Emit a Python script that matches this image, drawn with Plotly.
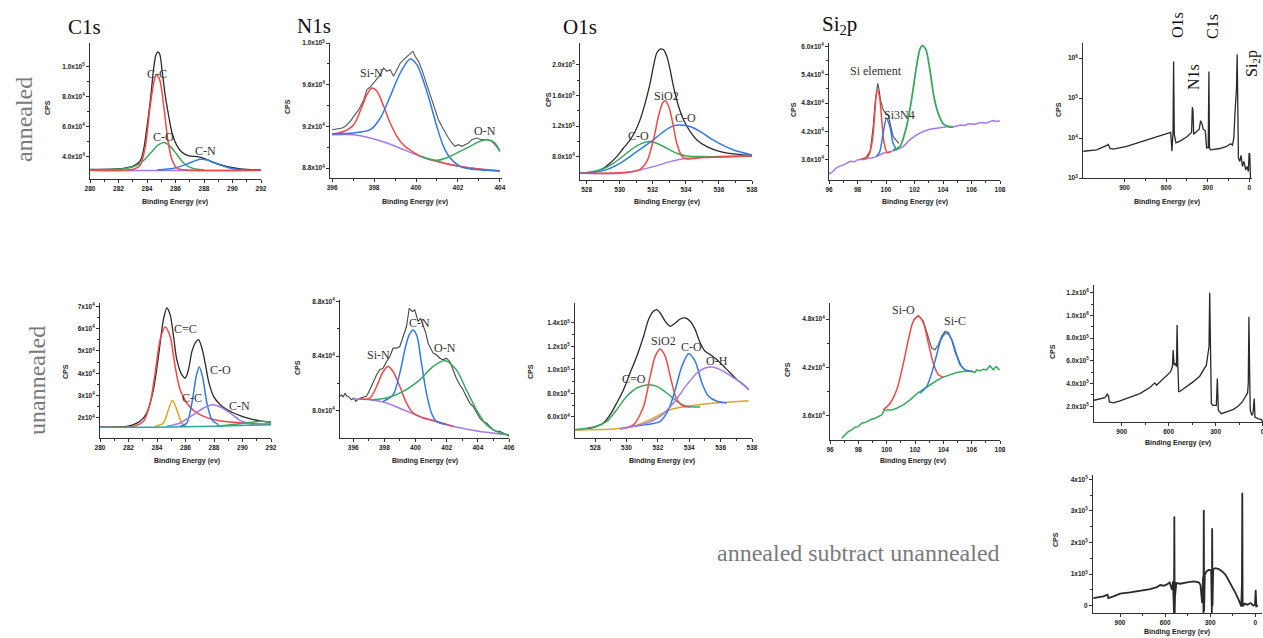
import plotly.graph_objects as go

W, H = 1263, 638

# ---------------- DATA ----------------
# Panel 1: C1s annealed
C1S_A_BLACK_E = [280, 282.35, 283.06, 283.53, 283.76, 284.0, 284.24, 284.47, 284.61, 284.75, 284.89, 285.08, 285.29, 285.53, 285.76, 286.07, 286.47, 286.94, 287.53, 288.0, 288.71, 289.65, 290.59, 292.0]
C1S_A_BLACK_V = [31560, 32230, 33780, 37340, 44440, 60000, 77780, 98890, 107100, 109550, 108200, 95560, 80000, 66670, 55560, 47780, 42670, 40450, 40000, 38890, 36000, 33330, 31780, 31110]
C1S_A_RED_E = [280, 283.06, 283.53, 283.88, 284.19, 284.47, 284.66, 284.89, 285.18, 285.46, 285.76, 286.12, 286.82, 292]
C1S_A_RED_V = [31110, 31560, 34450, 46670, 71110, 88890, 94450, 91110, 73330, 51110, 37780, 32230, 31110, 30890]
C1S_A_GREEN_E = [280, 282.59, 283.53, 284.24, 284.71, 285.18, 285.65, 286.12, 286.59, 287.18, 288.0]
C1S_A_GREEN_V = [31110, 32230, 35560, 42220, 47110, 49340, 46670, 41110, 35560, 32230, 31110]
C1S_A_BLUE_E = [284.71, 285.88, 286.82, 287.41, 287.76, 288.24, 288.94, 289.88, 290.82, 292]
C1S_A_BLUE_V = [31110, 32230, 35110, 37340, 38230, 37780, 35110, 32230, 31110, 30890]
C1S_A_BASE_E = [280, 292]
C1S_A_BASE_V = [30800, 30800]

# Panel 2: N1s annealed
N1S_A_BLACK_E = [396.0, 396.24, 396.48, 396.63, 396.87, 397.03, 397.27, 397.51, 397.66, 397.82, 397.98, 398.14, 398.30, 398.46, 398.61, 398.77, 398.93, 399.09, 399.25, 399.41, 399.57, 399.72, 399.85, 399.96, 400.12, 400.28, 400.44, 400.60, 400.75, 400.91, 401.07, 401.23, 401.39, 401.55, 401.71, 401.86, 402.02, 402.18, 402.34, 402.50, 402.66, 402.89, 403.13, 403.37, 403.61, 403.84, 404.0]
N1S_A_BLACK_V = [91680, 91744, 91840, 92000, 92480, 92960, 93600, 94560, 95520, 95776, 96160, 96480, 96960, 97600, 97280, 97440, 96800, 97440, 98080, 98400, 98720, 99040, 99200, 98720, 98240, 97440, 96480, 95520, 94560, 93600, 92640, 92000, 91360, 90880, 90400, 90080, 90240, 90080, 90240, 90400, 90720, 90880, 90720, 90720, 90560, 90080, 89600]
N1S_A_BASE_E = [396.0, 397.03, 397.82, 398.61, 399.41, 400.20, 400.99, 401.78, 402.58, 403.37, 404.0]
N1S_A_BASE_V = [91200, 91200, 90880, 90400, 89760, 89120, 88640, 88256, 88000, 87840, 87744]
N1S_A_RED_E = [396.0, 396.55, 397.03, 397.43, 397.66, 397.9, 398.14, 398.46, 398.77, 399.09, 399.41, 399.88, 400.36, 400.99, 401.78, 402.58, 403.37, 404.0]
N1S_A_RED_V = [91250, 91500, 92160, 93920, 95040, 95680, 95360, 93920, 92320, 91040, 90200, 89500, 89000, 88640, 88256, 88000, 87840, 87744]
N1S_A_BLUE_E = [396.0, 397.03, 397.82, 398.30, 398.77, 399.25, 399.72, 400.04, 400.36, 400.68, 400.99, 401.31, 401.63, 402.10, 402.58, 403.37, 404.0]
N1S_A_BLUE_V = [91296, 91360, 91680, 92800, 94880, 97120, 98464, 97920, 96320, 94240, 92000, 90080, 88960, 88160, 87904, 87776, 87712]
N1S_A_GREEN_E = [400.20, 400.99, 401.63, 402.10, 402.58, 403.05, 403.45, 403.77, 404.0]
N1S_A_GREEN_V = [89120, 88736, 89120, 89600, 90080, 90560, 90720, 90400, 89600]

# Panel 3: O1s annealed
O1S_A_BLACK_E = [527.6, 528.4, 529.01, 529.41, 529.82, 530.22, 530.63, 530.93, 531.23, 531.54, 531.84, 532.04, 532.24, 532.44, 532.65, 532.85, 533.05, 533.25, 533.56, 533.86, 534.26, 534.67, 535.27, 536.08, 536.89, 538.0]
O1S_A_BLACK_V = [58300, 59170, 64840, 71380, 80100, 91000, 101900, 112800, 128060, 149860, 176000, 197800, 215260, 220490, 219600, 210900, 193460, 171660, 145500, 128060, 112800, 101900, 93180, 86640, 83590, 81410]
O1S_A_BASE_E = [527.6, 530.02, 531.03, 532.04, 533.05, 534.06, 535.07, 536.08, 538.0]
O1S_A_BASE_V = [58300, 58300, 61780, 67000, 73560, 77920, 79230, 80100, 80970]
O1S_A_RED_E = [527.6, 530.63, 531.23, 531.64, 532.04, 532.34, 532.59, 532.75, 532.95, 533.21, 533.45, 533.76, 534.06, 535.07, 538.0]
O1S_A_RED_V = [58300, 60040, 63530, 73560, 101900, 132420, 149860, 152900, 146400, 123700, 97540, 81000, 77050, 78800, 80970]
O1S_A_BLUE_E = [527.6, 529.01, 530.02, 531.03, 532.04, 532.65, 533.25, 533.66, 534.26, 534.87, 535.47, 536.08, 536.89, 538.0]
O1S_A_BLUE_V = [58300, 61780, 71380, 86640, 101900, 112800, 120200, 121500, 119300, 112800, 104100, 96700, 88800, 82300]
O1S_A_GREEN_E = [527.6, 528.81, 529.62, 530.42, 531.03, 531.74, 532.24, 532.85, 533.45, 534.06, 535.07, 538.0]
O1S_A_GREEN_V = [58300, 62660, 71380, 84460, 94050, 99780, 97540, 91000, 84460, 80970, 80100, 80970]

# Panel 4: Si2p annealed
SI_A_BASE_E = [96.0, 96.25, 96.5, 96.75, 97.0, 97.25, 97.5, 97.75, 98.0, 98.25, 98.5, 98.75, 99.0, 99.33, 99.8, 100.27, 100.73, 101.2, 101.67, 102.14, 102.61, 103.08, 103.55, 104.02, 104.5, 104.75, 105.0, 105.25, 105.5, 105.75, 106.0, 106.25, 106.5, 106.75, 107.0, 107.25, 107.5, 107.75, 108.0]
SI_A_BASE_V = [33030, 33500, 34300, 34700, 34900, 35300, 35700, 35600, 36000, 36150, 36100, 36350, 36400, 36700, 37410, 37760, 38110, 38820, 40230, 41290, 42000, 42490, 42700, 42920, 43100, 43000, 43250, 43400, 43300, 43600, 43650, 43550, 43800, 43900, 43750, 44050, 44300, 44100, 44260]
SI_A_BLACK_E = [98.3, 98.6, 98.9, 99.1, 99.25, 99.42, 99.5, 99.61, 99.8, 99.98, 100.15, 100.31, 100.5, 100.69, 100.9]
SI_A_BLACK_V = [36140, 36500, 38000, 43000, 48500, 52200, 51000, 48700, 46590, 45880, 45530, 43060, 40940, 40230, 39500]
SI_A_RED_E = [98.27, 98.74, 99.05, 99.23, 99.37, 99.54, 99.70, 99.87, 100.08, 100.38]
SI_A_RED_V = [36140, 36700, 40230, 46590, 50680, 49410, 44470, 39530, 37550, 37760]
SI_A_BLUE_E = [99.33, 99.56, 99.80, 100.03, 100.27, 100.50, 100.73]
SI_A_BLUE_V = [36700, 37760, 41640, 44820, 43060, 39530, 38250]
SI_A_GREEN_E = [100.5, 100.97, 101.44, 101.79, 102.14, 102.37, 102.56, 102.80, 103.08, 103.36, 103.66, 104.02, 104.37, 104.72]
SI_A_GREEN_V = [38110, 38820, 43060, 48700, 55760, 59290, 60140, 59290, 55060, 49410, 45880, 43620, 43060, 42920]

# Panel 5: survey annealed (log)
SUR_A_E = [1197.6, 1101, 1024, 1017, 1005, 981, 885, 789, 692, 596, 567, 558, 550, 546, 541, 529, 500, 452, 423, 416, 411, 406, 401, 385, 361, 351, 341, 332, 317, 308, 296, 291, 287, 279, 212, 164, 135, 121, 111, 102, 92, 87, 83, 78, 68, 59, 49, 39, 25, 15, 6, 1, -4, -9]
SUR_A_V = [4670, 5050, 6640, 6900, 5460, 5250, 6140, 7760, 9820, 12400, 13900, 4670, 13700, 822000, 12400, 7600, 8390, 10600, 12900, 13700, 59000, 48500, 12400, 13700, 16600, 27100, 22300, 16600, 15100, 5670, 5670, 458000, 5670, 5050, 5460, 6140, 7180, 6640, 10200, 48500, 172600, 1216000, 48500, 3160, 2600, 3700, 1940, 2600, 1600, 1940, 1450, 4240, 3850, 980]

# Panel 6: C1s unannealed
C1S_U_BLACK_E = [280.0, 281.17, 281.87, 282.34, 282.81, 283.28, 283.75, 284.10, 284.45, 284.69, 284.92, 285.16, 285.39, 285.74, 285.98, 286.21, 286.45, 286.68, 286.91, 287.15, 287.38, 287.62, 287.97, 288.44, 288.91, 289.37, 289.84, 290.31, 290.78, 291.48, 292.0]
C1S_U_BLACK_V = [15950, 15950, 16250, 17000, 18490, 22220, 32680, 47600, 64030, 69250, 66270, 56560, 46110, 39390, 37900, 41630, 49840, 53580, 55070, 51340, 44620, 36410, 29690, 25960, 23720, 22220, 21030, 19990, 19240, 18490, 18040]
C1S_U_RED_E = [280.0, 282.34, 283.05, 283.52, 283.87, 284.22, 284.57, 284.92, 285.27, 285.62, 286.09, 286.56, 287.27, 288.20, 289.37, 290.78, 292.0]
C1S_U_RED_V = [15950, 16250, 18490, 26700, 40140, 55070, 60740, 56560, 43130, 32680, 26700, 23420, 20730, 18940, 18040, 17450, 17300]
C1S_U_ORANGE_E = [283.87, 284.45, 284.80, 285.09, 285.39, 285.74, 286.09]
C1S_U_ORANGE_V = [16250, 17750, 23720, 27900, 23720, 17750, 16250]
C1S_U_BLUE_E = [285.62, 286.09, 286.45, 286.75, 286.96, 287.19, 287.50, 287.85, 288.32]
C1S_U_BLUE_V = [16250, 17750, 26700, 38650, 42830, 38650, 26700, 19240, 17000]
C1S_U_PURPLE_E = [284.69, 285.62, 286.56, 287.27, 287.85, 288.44, 289.14, 289.84, 290.78]
C1S_U_PURPLE_V = [16250, 17750, 21480, 24460, 25960, 24910, 22220, 18940, 17000]
C1S_U_GREEN_E = [288.2, 289.84, 291.25, 292.0]
C1S_U_GREEN_V = [16250, 17450, 18490, 18190]
C1S_U_BASE_E = [280.0, 284.0, 288.0, 292.0]
C1S_U_BASE_V = [15800, 15900, 16300, 17000]

# Panel 7: N1s unannealed
N1S_U_BLACK_E = [395.15, 395.25, 395.36, 395.47, 395.57, 395.74, 395.89, 396.04, 396.17, 396.32, 396.47, 396.64, 396.85, 397.07, 397.28, 397.50, 397.71, 397.92, 398.14, 398.35, 398.56, 398.78, 398.99, 399.21, 399.42, 399.53, 399.59, 399.70, 399.80, 399.95, 400.06, 400.17, 400.32, 400.49, 400.66, 400.81, 400.96, 401.13, 401.34, 401.56, 401.77, 401.98, 402.20, 402.41, 402.62, 402.84, 403.05, 403.26, 403.48, 403.69, 403.91, 404.12, 404.33, 404.55, 404.76, 404.97, 405.19, 405.40, 405.62, 405.87, 406.0]
N1S_U_BLACK_V = [81030, 81150, 80980, 81270, 81080, 80980, 80780, 80910, 80660, 80830, 80910, 80980, 81030, 81520, 82130, 82620, 82990, 83110, 83600, 83960, 84580, 84580, 84700, 85430, 86170, 87020, 87510, 87390, 87270, 87390, 86900, 86530, 86780, 86290, 85680, 84940, 84580, 84210, 84090, 83840, 83720, 83840, 83600, 82990, 82370, 81890, 81520, 81030, 80540, 80300, 79810, 79440, 79190, 79070, 78830, 78580, 78460, 78460, 78340, 78140, 78090]
N1S_U_BASE_E = [396.0, 397.07, 398.14, 399.21, 400.27, 401.34, 402.41, 403.48, 404.55, 405.62, 406.0]
N1S_U_BASE_V = [80830, 80780, 80540, 80050, 79560, 79190, 78830, 78580, 78390, 78240, 78190]
N1S_U_RED_E = [396.43, 397.07, 397.50, 397.92, 398.24, 398.56, 398.99, 399.42, 399.85, 400.49, 401.34, 402.41]
N1S_U_RED_V = [80830, 80910, 81760, 82860, 83230, 82860, 81760, 80540, 79810, 79440, 79190, 78830]
N1S_U_BLUE_E = [397.92, 398.56, 398.99, 399.31, 399.59, 399.85, 400.10, 400.38, 400.70, 401.02, 401.34, 401.98]
N1S_U_BLUE_V = [80660, 81150, 82740, 84450, 85550, 85920, 85430, 83470, 81270, 79810, 79190, 78950]
N1S_U_GREEN_E = [397.07, 398.14, 399.21, 400.27, 401.13, 401.88, 402.62, 403.26, 403.91, 404.55, 405.19, 406.0]
N1S_U_GREEN_V = [80780, 80910, 81400, 82250, 83230, 83670, 82990, 81520, 80050, 78950, 78460, 78190]

# Panel 8: O1s unannealed
O1S_U_BLACK_E = [526.72, 527.47, 528.11, 528.53, 528.96, 529.38, 529.81, 530.23, 530.66, 531.09, 531.40, 531.72, 531.94, 532.15, 532.47, 532.79, 533.11, 533.43, 533.74, 534.06, 534.38, 534.70, 535.02, 535.34, 535.77, 536.19, 536.62, 537.04, 537.47, 537.79]
O1S_U_BLACK_V = [49220, 49780, 52050, 54890, 61980, 71910, 83260, 97450, 111630, 128650, 142840, 149930, 151350, 148510, 141420, 137160, 140000, 143400, 144260, 141420, 134330, 122980, 115890, 113050, 108790, 103120, 97450, 91770, 87520, 83260]
O1S_U_RED_E = [529.6, 530.45, 531.09, 531.51, 531.83, 532.15, 532.47, 532.79, 533.21, 533.64, 534.06]
O1S_U_RED_V = [49780, 53470, 69080, 94610, 111630, 117870, 111630, 94610, 74750, 69080, 68500]
O1S_U_BLUE_E = [530.45, 531.30, 532.15, 532.68, 533.11, 533.53, 533.96, 534.38, 534.81, 535.23, 535.77, 536.40]
O1S_U_BLUE_V = [52050, 53500, 56310, 66240, 83260, 103120, 113900, 107380, 88930, 77590, 73330, 71910]
O1S_U_PURPLE_E = [529.6, 531.30, 532.15, 533.0, 533.85, 534.49, 535.02, 535.45, 535.98, 536.62, 537.26, 537.79]
O1S_U_PURPLE_V = [49780, 54890, 60560, 71910, 87520, 97450, 101700, 102550, 100280, 95180, 89500, 83260]
O1S_U_GREEN_E = [526.72, 527.89, 528.74, 529.38, 530.02, 530.66, 531.40, 531.94, 532.57, 533.21, 533.85, 534.70]
O1S_U_GREEN_V = [49220, 51490, 56310, 66240, 77590, 84680, 87520, 86100, 80430, 73330, 69080, 68500]
O1S_U_BASE_E = [526.72, 529.17, 530.45, 531.72, 532.79, 533.85, 535.13, 536.40, 537.79]
O1S_U_BASE_V = [49220, 49780, 52050, 59150, 66240, 69080, 71340, 72480, 73900]

# Panel 9: Si2p unannealed
SI_U_GREEN_E = [96.82, 97.06, 97.29, 97.53, 97.76, 98.0, 98.24, 98.47, 98.71, 98.94, 99.18, 99.41, 99.65, 99.81, 100.0, 100.35, 100.71, 101.18, 101.65, 102.12, 102.59, 103.06, 103.53, 104.0, 104.47, 104.94, 105.41, 105.88, 106.24, 106.35, 106.59, 106.82, 107.06, 107.29, 107.53, 107.72, 107.88, 108.0]
SI_U_GREEN_V = [33180, 33590, 34010, 34220, 34550, 34630, 35050, 35130, 35380, 35540, 35670, 35880, 36080, 36620, 36710, 36710, 36910, 37330, 37950, 38700, 39280, 39820, 40360, 40780, 41070, 41360, 41480, 41560, 41360, 41690, 41560, 41770, 41690, 42190, 41690, 42100, 41810, 41690]
SI_U_RED_E = [99.76, 100.24, 100.71, 101.18, 101.53, 101.88, 102.24, 102.59, 102.94, 103.29, 103.65, 104.0]
SI_U_RED_V = [36710, 37540, 39200, 42520, 45430, 47710, 48330, 47500, 45010, 42520, 41070, 40780]
SI_U_BLACK_E = [101.88, 102.24, 102.59, 102.94, 103.18, 103.41, 103.65, 103.88, 104.12, 104.35, 104.59, 104.82, 105.18, 105.53, 105.88]
SI_U_BLACK_V = [47830, 48420, 47710, 45630, 44390, 44180, 44800, 45840, 46460, 46340, 45430, 43970, 42310, 41690, 41560]
SI_U_BLUE_E = [102.35, 102.82, 103.18, 103.53, 103.88, 104.24, 104.59, 104.94, 105.29, 105.65, 106.12]
SI_U_BLUE_V = [38780, 39610, 41270, 43560, 45630, 46260, 45430, 43560, 42100, 41560, 41480]

# Panel 10: survey unannealed
SUR_U_E = [1077, 1038.8, 1006.9, 992.0, 983.5, 979.3, 953.8, 911.3, 847.6, 783.8, 720.1, 688.3, 677.6, 656.4, 613.9, 588.4, 575.7, 571.4, 565.0, 556.5, 550.1, 545.9, 541.6, 535.3, 518.3, 486.4, 443.9, 401.5, 369.6, 358.9, 348.3, 341.9, 337.7, 333.4, 327.1, 316.4, 295.2, 288.8, 282.4, 263.3, 231.4, 188.9, 157.0, 129.4, 108.1, 95.4, 91.1, 86.9, 82.6, 78.4, 67.8, 61.4, 52.9, 48.6, 29.5, 8.3, -2.1]
SUR_U_V = [253000, 267700, 276500, 305900, 288300, 238300, 229500, 247100, 276500, 311800, 364800, 405900, 385300, 414800, 464800, 503000, 547100, 694100, 561800, 576500, 547100, 914700, 576500, 326500, 341200, 370600, 414800, 464800, 532400, 561800, 664700, 723600, 1200000, 811800, 223600, 208900, 208900, 444200, 164800, 135400, 150100, 170700, 200100, 238300, 288300, 317700, 400000, 988200, 517700, 164800, 120600, 135400, 267700, 105900, 91200, 82400, 61800]

# Panel 11: annealed subtract unannealed
SUB_E = [1077.8, 1044.4, 1010.9, 984.2, 977.5, 944.1, 899.5, 832.7, 765.8, 699, 654.4, 632.1, 609.9, 587.6, 569.8, 560.8, 554.1, 547.5, 543, 540.8, 538.6, 536.3, 534.1, 525.2, 498.4, 453.9, 409.3, 375.9, 364.8, 353.6, 346.9, 344.7, 342.5, 340.2, 335.8, 324.7, 309.1, 293.4, 289, 286.8, 284.5, 280.1, 264.5, 242.2, 219.9, 197.6, 175.4, 153.1, 130.8, 115.2, 101.8, 92.9, 88.5, 86.2, 84, 70.6, 52.8, 30.5, 12.7, 1.6, -2.9, -7.4, -18.5]
SUB_V = [24220, 27380, 29480, 34750, 24220, 29480, 37900, 42120, 46330, 52650, 58960, 65280, 63170, 67380, 73690, 61060, 50540, 76850, 29480, -23150, 282100, -23150, 29480, 71590, 69490, 73690, 76850, 73690, 66320, 8430, 92640, -23150, 303160, -17880, 97900, 108420, 113690, 111590, -23150, 245270, -2100, 115800, 118960, 115800, 108420, 97900, 80000, 61060, 40010, 24220, 8430, -2100, 71590, 357900, -2100, 6330, 3160, 8430, 0, 3160, 50540, -2100, 0]

# Tick values / labels
C1S_A_YT = [4e4, 6e4, 8e4, 1e5]
C1S_A_YL = ["4.0x10<sup>4</sup>", "6.0x10<sup>4</sup>", "8.0x10<sup>4</sup>", "1.0x10<sup>5</sup>"]
N1S_A_YT = [8.8e4, 9.2e4, 9.6e4, 1.0e5]
N1S_A_YL = ["8.8x10<sup>4</sup>", "9.2x10<sup>4</sup>", "9.6x10<sup>4</sup>", "1.0x10<sup>5</sup>"]
O1S_A_YT = [8e4, 1.2e5, 1.6e5, 2.0e5]
O1S_A_YL = ["8.0x10<sup>4</sup>", "1.2x10<sup>5</sup>", "1.6x10<sup>5</sup>", "2.0x10<sup>5</sup>"]
SI_A_YT = [3.6e4, 4.2e4, 4.8e4, 5.4e4, 6.0e4]
SI_A_YL = ["3.6x10<sup>4</sup>", "4.2x10<sup>4</sup>", "4.8x10<sup>4</sup>", "5.4x10<sup>4</sup>", "6.0x10<sup>4</sup>"]
SUR_A_YT = [1e3, 1e4, 1e5, 1e6]
SUR_A_YL = ["10<sup>3</sup>", "10<sup>4</sup>", "10<sup>5</sup>", "10<sup>6</sup>"]
C1S_U_YT = [2e4, 3e4, 4e4, 5e4, 6e4, 7e4]
C1S_U_YL = ["2x10<sup>4</sup>", "3x10<sup>4</sup>", "4x10<sup>4</sup>", "5x10<sup>4</sup>", "6x10<sup>4</sup>", "7x10<sup>4</sup>"]
N1S_U_YT = [8.0e4, 8.4e4, 8.8e4]
N1S_U_YL = ["8.0x10<sup>4</sup>", "8.4x10<sup>4</sup>", "8.8x10<sup>4</sup>"]
O1S_U_YT = [6e4, 8e4, 1.0e5, 1.2e5, 1.4e5]
O1S_U_YL = ["6.0x10<sup>4</sup>", "8.0x10<sup>4</sup>", "1.0x10<sup>5</sup>", "1.2x10<sup>5</sup>", "1.4x10<sup>5</sup>"]
SI_U_YT = [3.6e4, 4.2e4, 4.8e4]
SI_U_YL = ["3.6x10<sup>4</sup>", "4.2x10<sup>4</sup>", "4.8x10<sup>4</sup>"]
SUR_U_YT = [2e5, 4e5, 6e5, 8e5, 1.0e6, 1.2e6]
SUR_U_YL = ["2.0x10<sup>5</sup>", "4.0x10<sup>5</sup>", "6.0x10<sup>5</sup>", "8.0x10<sup>5</sup>", "1.0x10<sup>6</sup>", "1.2x10<sup>6</sup>"]
SUB_YT = [0, 1e5, 2e5, 3e5, 4e5]
SUB_YL = ["0", "1x10<sup>5</sup>", "2x10<sup>5</sup>", "3x10<sup>5</sup>", "4x10<sup>5</sup>"]
C1S_XT = [280, 282, 284, 286, 288, 290, 292]
N1S_A_XT = [396, 398, 400, 402, 404]
N1S_U_XT = [396, 398, 400, 402, 404, 406]
O1S_XT = [528, 530, 532, 534, 536, 538]
SI_XT = [96, 98, 100, 102, 104, 106, 108]
SUR_XT = [900, 600, 300, 0]

# ---------------- STYLE ----------------
BLACK = '#2a2a2a'
RED = '#f04848'
BLUE = '#3479e0'
GREEN = '#3aa860'
PURPLE = '#a27be6'
ORANGE = '#dca728'
TEAL = '#27a89a'

def fx(px):
    return px / W

def fy(py):
    return 1 - py / H

# panel layout: (x px domain, y px domain (top,bottom), x range, y range, xticks, yticks, ylabels, log)
PANELS = [
    ((90, 261), (43, 179), [280, 292], [25100, 115550], C1S_XT, C1S_A_YT, C1S_A_YL, False),
    ((330, 502), (43, 178), [395.9, 404.1], [87040, 100000], N1S_A_XT, N1S_A_YT, N1S_A_YL, False),
    ((580, 752), (43, 180), [527.6, 538], [49580, 228340], O1S_XT, O1S_A_YT, O1S_A_YL, False),
    ((829, 1000), (43, 180), [96, 108], [31760, 60710], SI_XT, SI_A_YT, SI_A_YL, False),
    ((1083, 1252), (43, 178), [1200, -20], [3, 6.375], SUR_XT, SUR_A_YT, SUR_A_YL, True),
    ((100, 271), (303, 438), [280, 292], [11030, 71490], C1S_XT, C1S_U_YT, C1S_U_YL, False),
    ((340, 509), (300, 438), [395.15, 406], [77970, 88120], N1S_U_XT, N1S_U_YT, N1S_U_YL, False),
    ((575, 752), (303, 438), [526.72, 538], [42120, 157000], O1S_XT, O1S_U_YT, O1S_U_YL, False),
    ((830, 1000), (303, 440), [96, 108], [32970, 49990], SI_XT, SI_U_YT, SI_U_YL, False),
    ((1094, 1263), (285, 422), [1077, -3], [61800, 1267600], SUR_XT, SUR_U_YT, SUR_U_YL, False),
    ((1093, 1262), (475, 613), [1080, -45], [-23150, 413700], SUR_XT, SUB_YT, SUB_YL, False),
]

# axis-title positions in px: (x title center, y title center, CPS x, CPS y)
TITLES = [
    (175, 202, 47, 107), (415, 202, 287, 107), (667, 202, 548, 100), (915, 202, 793, 110),
    (1167, 202, 1058, 110), (187, 461, 65, 372), (425, 461, 297, 368), (662, 461, 530, 372),
    (913, 461, 787, 370), (1178, 443, 1052, 352), (1177, 632, 1055, 540),
]

fig = go.Figure()

def ax(n):
    return ('x' if n == 1 else f'x{n}'), ('y' if n == 1 else f'y{n}')

def add(n, xs, ys, color, width=1.5, shape='spline'):
    xa, ya = ax(n)
    fig.add_trace(go.Scatter(x=xs, y=ys, mode='lines', xaxis=xa, yaxis=ya,
                             line=dict(color=color, width=width, shape=shape, smoothing=0.8),
                             showlegend=False, hoverinfo='skip'))

# Panel 1
add(1, C1S_A_BASE_E, C1S_A_BASE_V, PURPLE, 1.4, 'linear')
add(1, C1S_A_BLACK_E, C1S_A_BLACK_V, BLACK, 1.3)
add(1, C1S_A_GREEN_E, C1S_A_GREEN_V, GREEN)
add(1, C1S_A_BLUE_E, C1S_A_BLUE_V, BLUE)
add(1, C1S_A_RED_E, C1S_A_RED_V, RED)
# Panel 2
add(2, N1S_A_BLACK_E, N1S_A_BLACK_V, '#555555', 1.1, 'linear')
add(2, N1S_A_BASE_E, N1S_A_BASE_V, PURPLE)
add(2, N1S_A_RED_E, N1S_A_RED_V, RED)
add(2, N1S_A_BLUE_E, N1S_A_BLUE_V, BLUE)
add(2, N1S_A_GREEN_E, N1S_A_GREEN_V, GREEN)
# Panel 3
add(3, O1S_A_BLACK_E, O1S_A_BLACK_V, BLACK, 1.3)
add(3, O1S_A_BASE_E, O1S_A_BASE_V, PURPLE)
add(3, O1S_A_GREEN_E, O1S_A_GREEN_V, GREEN)
add(3, O1S_A_BLUE_E, O1S_A_BLUE_V, BLUE)
add(3, O1S_A_RED_E, O1S_A_RED_V, RED)
# Panel 4
add(4, SI_A_BLACK_E, SI_A_BLACK_V, '#555555', 1.2, 'linear')
add(4, SI_A_BASE_E, SI_A_BASE_V, PURPLE, 1.5, 'linear')
add(4, SI_A_RED_E, SI_A_RED_V, RED)
add(4, SI_A_BLUE_E, SI_A_BLUE_V, BLUE)
add(4, SI_A_GREEN_E, SI_A_GREEN_V, GREEN, 1.8)
# Panel 5
add(5, SUR_A_E, SUR_A_V, BLACK, 1.3, 'linear')
# Panel 6
add(6, C1S_U_BLACK_E, C1S_U_BLACK_V, BLACK, 1.3)
add(6, C1S_U_RED_E, C1S_U_RED_V, RED)
add(6, C1S_U_ORANGE_E, C1S_U_ORANGE_V, ORANGE)
add(6, C1S_U_BLUE_E, C1S_U_BLUE_V, BLUE)
add(6, C1S_U_PURPLE_E, C1S_U_PURPLE_V, PURPLE)
add(6, C1S_U_GREEN_E, C1S_U_GREEN_V, GREEN)
add(6, C1S_U_BASE_E, C1S_U_BASE_V, TEAL)
# Panel 7
add(7, N1S_U_BLACK_E, N1S_U_BLACK_V, '#444444', 1.1, 'linear')
add(7, N1S_U_BASE_E, N1S_U_BASE_V, PURPLE)
add(7, N1S_U_RED_E, N1S_U_RED_V, RED)
add(7, N1S_U_BLUE_E, N1S_U_BLUE_V, BLUE)
add(7, N1S_U_GREEN_E, N1S_U_GREEN_V, GREEN)
# Panel 8
add(8, O1S_U_BLACK_E, O1S_U_BLACK_V, BLACK, 1.3)
add(8, O1S_U_BASE_E, O1S_U_BASE_V, ORANGE)
add(8, O1S_U_GREEN_E, O1S_U_GREEN_V, GREEN)
add(8, O1S_U_RED_E, O1S_U_RED_V, RED)
add(8, O1S_U_BLUE_E, O1S_U_BLUE_V, BLUE)
add(8, O1S_U_PURPLE_E, O1S_U_PURPLE_V, PURPLE)
# Panel 9
add(9, SI_U_BLACK_E, SI_U_BLACK_V, '#555555', 1.2, 'linear')
add(9, SI_U_GREEN_E, SI_U_GREEN_V, GREEN, 1.5, 'linear')
add(9, SI_U_RED_E, SI_U_RED_V, RED)
add(9, SI_U_BLUE_E, SI_U_BLUE_V, BLUE)
# Panel 10, 11
add(10, SUR_U_E, SUR_U_V, BLACK, 1.3, 'linear')
add(11, SUB_E, SUB_V, BLACK, 1.8, 'linear')

TICKFONT = dict(family='Liberation Sans', size=6.5, color='#222', weight='bold')
layout = dict(width=W, height=H, margin=dict(l=0, r=0, t=0, b=0),
              paper_bgcolor='white', plot_bgcolor='white', showlegend=False,
              template='none')

def mids(v):
    s = sorted(v)
    return [(a + b) / 2 for a, b in zip(s[:-1], s[1:])]

for i, (xd, yd, xr, yr, xt, yt, yl, lg) in enumerate(PANELS, start=1):
    common = dict(showline=True, linecolor='#333', linewidth=1, ticks='outside', ticklen=3,
                  tickwidth=1, tickcolor='#333', showgrid=False, zeroline=False,
                  tickfont=TICKFONT, automargin=False, fixedrange=True,
                  ticklabeloverflow='allow')
    xkey = 'xaxis' if i == 1 else f'xaxis{i}'
    ykey = 'yaxis' if i == 1 else f'yaxis{i}'
    xa, ya = ax(i)
    layout[xkey] = dict(common, domain=[fx(xd[0]), fx(xd[1])], range=xr, anchor=ya,
                        tickmode='array', tickvals=xt, ticktext=[str(v) for v in xt],
                        minor=dict(tickvals=mids(xt), ticks='outside', ticklen=2, tickcolor='#333'))
    ycfg = dict(common, domain=[fy(yd[1]), fy(yd[0])], range=yr, anchor=xa,
                tickmode='array', tickvals=yt, ticktext=yl)
    if lg:
        ycfg['type'] = 'log'
    else:
        ycfg['minor'] = dict(tickvals=mids(yt), ticks='outside', ticklen=2, tickcolor='#333')
    layout[ykey] = ycfg

fig.update_layout(**layout)

ann = []
LBL = dict(family='Liberation Serif', size=12, color='#333')

def lab(n, x, y, t, size=12):
    xa, ya = ax(n)
    ann.append(dict(x=x, y=y, xref=xa, yref=ya, text=t, showarrow=False,
                    font=dict(LBL, size=size), xanchor='center', yanchor='middle'))

# component labels
lab(1, 284.71, 95110, 'C-C'); lab(1, 285.18, 53330, 'C-O'); lab(1, 288.12, 44000, 'C-N')
lab(2, 397.9, 97120, 'Si-N'); lab(2, 399.96, 100160, 'C-N'); lab(2, 403.29, 91520, 'O-N')
lab(3, 532.85, 158600, 'SiO2'); lab(3, 533.96, 130240, 'C-O'); lab(3, 531.13, 107100, 'C-O')
lab(4, 99.33, 54700, 'Si element'); lab(4, 100.97, 45530, 'Si3N4'); lab(4, 102.49, 61760, 'Si-O')
lab(6, 285.98, 59850, 'C=C'); lab(6, 288.44, 41630, 'C-O'); lab(6, 286.45, 28940, 'C-C')
lab(6, 289.8, 25200, 'C-N'); lab(6, 292.19, 20280, 'C=O')
lab(7, 397.6, 84090, 'Si-N'); lab(7, 400.27, 86410, 'C-N'); lab(7, 401.88, 84580, 'O-N')
lab(8, 532.36, 124400, 'SiO2'); lab(8, 534.17, 119570, 'C-O'); lab(8, 535.77, 107380, 'O-H')
lab(8, 530.45, 92340, 'C=O')
lab(9, 101.18, 49160, 'Si-O'); lab(9, 104.82, 47710, 'Si-C')

def pap(px, py, t, size, color='#111', angle=0, family='Liberation Serif', weight='normal'):
    ann.append(dict(x=fx(px), y=fy(py), xref='paper', yref='paper', text=t, showarrow=False,
                    textangle=angle, xanchor='center', yanchor='middle',
                    font=dict(family=family, size=size, color=color, weight=weight)))

# panel titles
pap(84, 27, 'C1s', 21)
pap(314, 26, 'N1s', 21)
pap(580, 27, 'O1s', 21)
pap(839, 25, 'Si<sub>2</sub>p', 21)
# survey labels
pap(1177, 25, 'O1s', 16, angle=-90)
pap(1193, 77, 'N1s', 16, angle=-90)
pap(1212, 27, 'C1s', 16, angle=-90)
pap(1253, 64, 'Si<sub>2</sub>p', 16, angle=-90)
# row labels
pap(24, 120, 'annealed', 24, color='#7a7a7a', angle=-90)
pap(37, 381, 'unannealed', 24, color='#7a7a7a', angle=-90)
pap(858, 553, 'annealed subtract unannealed', 24, color='#7a7a7a')

# axis titles
for (tx, ty, cx, cy) in TITLES:
    pap(tx, ty, 'Binding Energy (ev)', 7, color='#222', family='Liberation Sans', weight='bold')
    pap(cx, cy, 'CPS', 7, color='#222', angle=-90, family='Liberation Sans', weight='bold')

fig.update_layout(annotations=ann)
fig.write_html("out.html")
